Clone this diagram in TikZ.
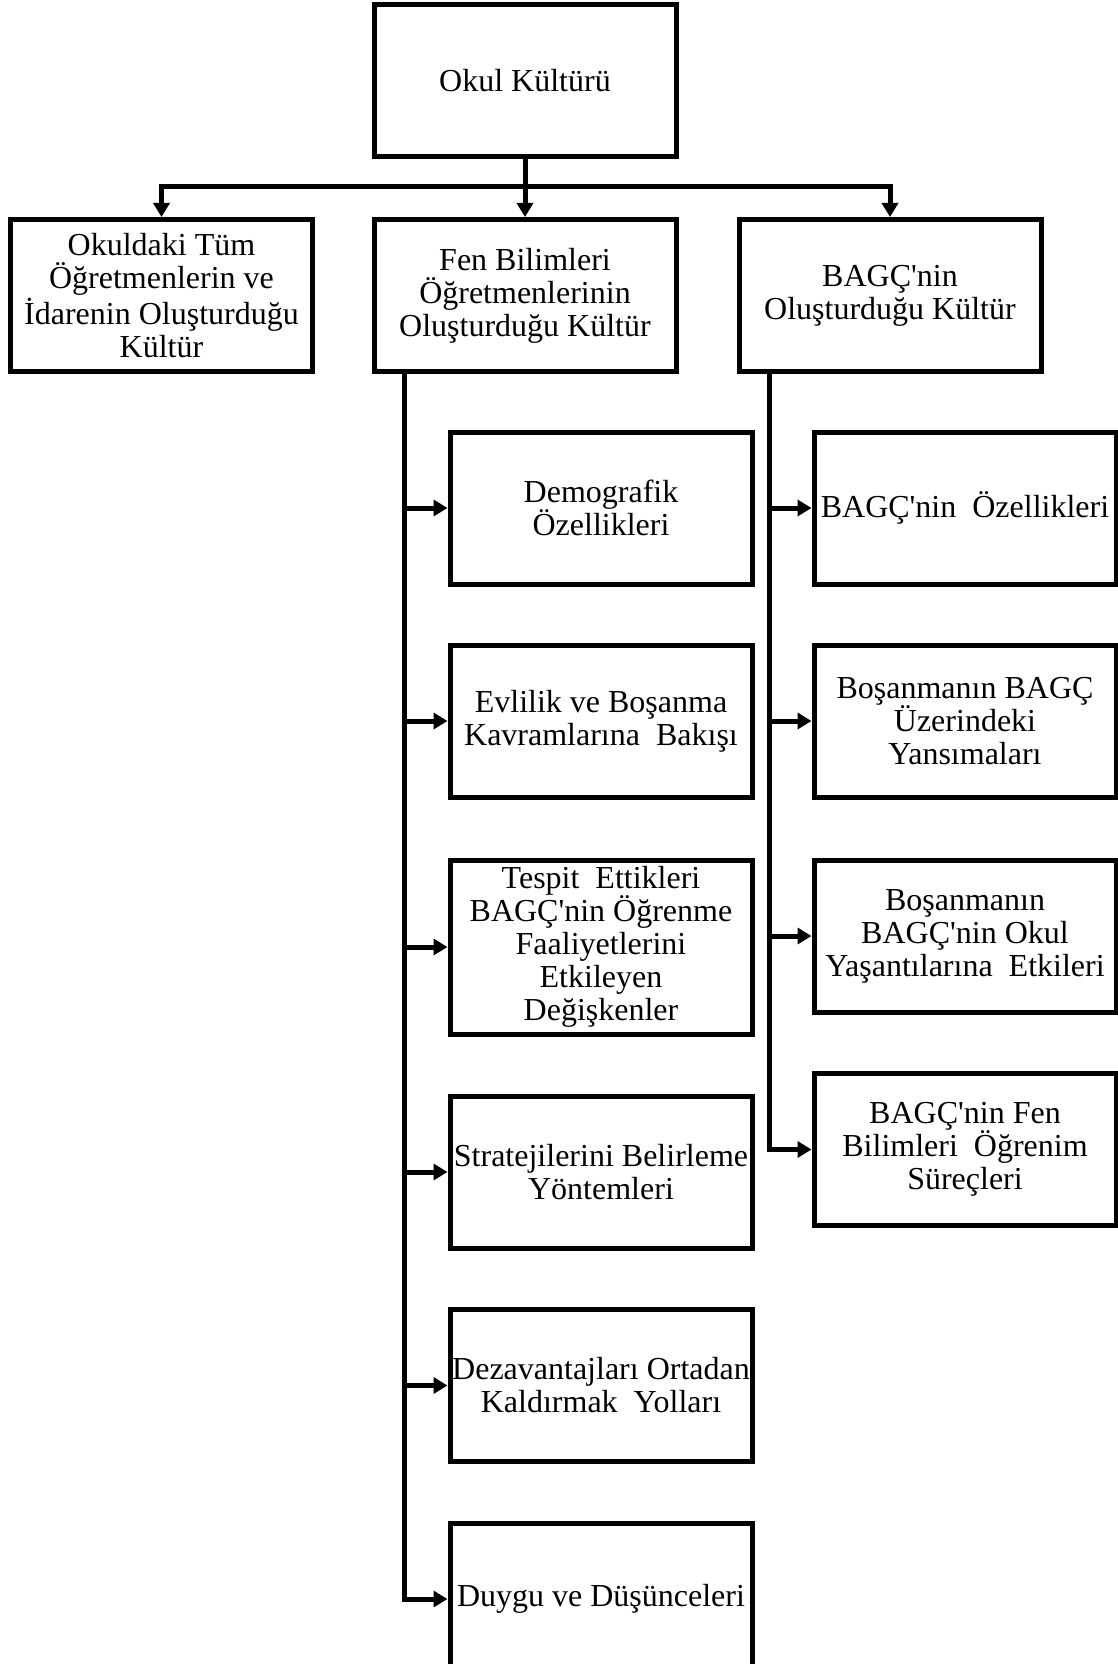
\documentclass[tikz,border=0pt]{standalone}
\usepackage{fontspec}
\setmainfont{Liberation Serif}
\usetikzlibrary{arrows.meta}

\newcommand{\tq}{\textquotesingle}

\begin{document}
\begin{tikzpicture}[
        x=0.5pt, y=-0.5pt,
        line width=2.5pt,
        ok/.style={-{Triangle[length=7pt,width=8pt]}}]

    \tikzstyle{every node}=[font=\fontsize{16}{16.5}\selectfont, align=center]
    \tikzstyle{kutu}=[draw, rectangle, inner sep=0pt, minimum width=151pt, minimum height=76pt]

    \useasboundingbox (0,0) rectangle (1118,1664);

    % top and second row
    \node[kutu] (okul) at (525,81) {Okul Kültürü};
    \node[kutu] (tum) at (161.5,295.5) {Okuldaki Tüm\\Öğretmenlerin ve\\İdarenin Oluşturduğu\\Kültür};
    \node[kutu] (fen) at (525,295.5) {Fen Bilimleri\\Öğretmenlerinin\\Oluşturduğu Kültür};
    \node[kutu] (bagc) at (890,295.5) {BAGÇ\tq nin\\Oluşturduğu Kültür};

    % left column
    \node[kutu] (demo) at (601,508) {Demografik\\Özellikleri};
    \node[kutu] (evlilik) at (601,721) {Evlilik ve Boşanma\\Kavramlarına\ \ Bakışı};
    \node[kutu, minimum height=87pt] (tespit) at (601,947) {Tespit\ \ Ettikleri\\BAGÇ\tq nin Öğrenme\\Faaliyetlerini\\Etkileyen\\Değişkenler};
    \node[kutu] (strateji) at (601,1172) {Stratejilerini Belirleme\\Yöntemleri};
    \node[kutu] (dezavantaj) at (601,1385.5) {Dezavantajları Ortadan\\Kaldırmak\ \ Yolları};
    \node[kutu] (duygu) at (601,1599) {Duygu ve Düşünceleri};

    % right column
    \node[kutu] (ozellik) at (965,508) {BAGÇ\tq nin\ \ Özellikleri};
    \node[kutu] (yansima) at (965,721) {Boşanmanın BAGÇ\\Üzerindeki\\Yansımaları};
    \node[kutu] (yasanti) at (965,936) {Boşanmanın\\BAGÇ\tq nin Okul\\Yaşantılarına\ \ Etkileri};
    \node[kutu] (ogrenim) at (965,1149.5) {BAGÇ\tq nin Fen\\Bilimleri\ \ Öğrenim\\Süreçleri};

    \coordinate (catal) at (525,187);
    \coordinate (solkol) at (404.5,371.5);
    \coordinate (sagkol) at (769.5,371.5);

    \draw (okul.south) -- (catal);
    \draw[ok] (catal) -| (tum.north);
    \draw[ok] (catal) -- (fen.north);
    \draw[ok] (catal) -| (bagc.north);

    \draw[ok] (solkol) |- (duygu.west);
    \foreach \k in {demo,evlilik,tespit,strateji,dezavantaj}
        \draw[ok] (solkol |- \k.west) -- (\k.west);

    \draw[ok] (sagkol) |- (ogrenim.west);
    \foreach \k in {ozellik,yansima,yasanti}
        \draw[ok] (sagkol |- \k.west) -- (\k.west);
\end{tikzpicture}
\end{document}
